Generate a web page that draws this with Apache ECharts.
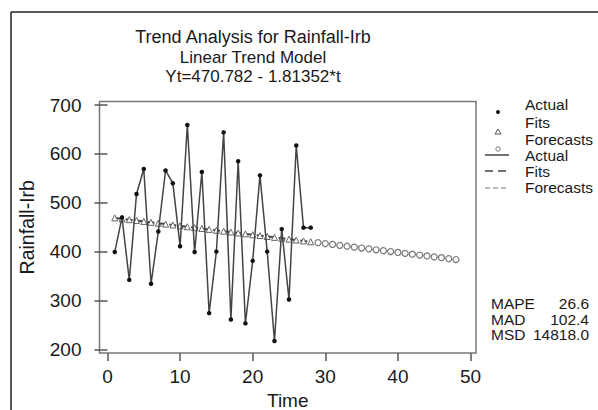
<!DOCTYPE html>
<html><head><meta charset="utf-8">
<script src="https://cdn.jsdelivr.net/npm/echarts@6/dist/echarts.min.js"></script>
<style>html,body{margin:0;padding:0;background:#fff}#c{width:598px;height:410px}</style>
</head><body><div id="c"></div>
<script>
const titleLines = ['Trend Analysis for Rainfall-Irb', 'Linear Trend Model', 'Yt=470.782 - 1.81352*t'];
const time = [1,2,3,4,5,6,7,8,9,10,11,12,13,14,15,16,17,18,19,20,21,22,23,24,25,26,27,28];
const actual = [399,470,342,518,569,334,441,566,540,411,659,399,563,274,400,644,261,585,253,381,556,400,217,446,302,617,449,449];
const fits = [469.0,467.2,465.3,463.5,461.7,459.9,458.1,456.3,454.5,452.6,450.8,449.0,447.2,445.4,443.6,441.8,440.0,438.1,436.3,434.5,432.7,430.9,429.1,427.3,425.4,423.6,421.8,420.0];
const forecastTime = [29,30,31,32,33,34,35,36,37,38,39,40,41,42,43,44,45,46,47,48];
const forecasts = [418.2,416.4,414.6,412.8,410.9,409.1,407.3,405.5,403.7,401.9,400.1,398.2,396.4,394.6,392.8,391.0,389.2,387.4,385.5,383.7];
const xTicks = [0,10,20,30,40,50];
const yTicks = [200,300,400,500,600,700];
const legendLabels = ['Actual','Fits','Forecasts','Actual','Fits','Forecasts'];
const statNames = ['MAPE','MAD','MSD'];
const statValues = ['26.6','102.4','14818.0'];

const FONT = '"Liberation Sans", Arial, sans-serif';
const TXT = '#1a1a1a';

const chart = echarts.init(document.getElementById('c'), null, {renderer: 'svg'});

const graphics = [];
graphics.push({type:'line', shape:{x1:11,y1:12,x2:598,y2:12}, style:{stroke:'#222',lineWidth:1.5}, silent:true});
graphics.push({type:'line', shape:{x1:11,y1:12,x2:11,y2:410}, style:{stroke:'#222',lineWidth:1.5}, silent:true});
const titleY = [37, 57, 76];
const titleSize = [18, 17, 17];
titleLines.forEach((t,i)=>graphics.push({type:'text', x:253, y:titleY[i], style:{text:t, fill:TXT, font: titleSize[i]+'px '+FONT, lineHeight: titleSize[i]-1, textAlign:'center', textVerticalAlign:'middle'}}));
const legY = [104, 122, 139, 155, 171, 187];
legendLabels.forEach((t,i)=>graphics.push({type:'text', x:525, y:legY[i], style:{text:t, fill:TXT, font:'15.5px '+FONT, lineHeight: 13.5, textAlign:'left', textVerticalAlign:'middle'}}));
graphics.push({type:'circle', shape:{cx:498, cy:112, r:2}, style:{fill:'#111'}});
graphics.push({type:'polygon', shape:{points:[[498,129],[495,134],[501,134]]}, style:{fill:'#fff', stroke:'#555', lineWidth:1}});
graphics.push({type:'circle', shape:{cx:498, cy:149, r:2.2}, style:{fill:'#fff', stroke:'#777', lineWidth:1}});
graphics.push({type:'line', shape:{x1:485,y1:155,x2:509,y2:155}, style:{stroke:'#444',lineWidth:1.5}});
graphics.push({type:'line', shape:{x1:485,y1:171,x2:509,y2:171}, style:{stroke:'#444',lineWidth:1.5, lineDash:[8,5]}});
graphics.push({type:'line', shape:{x1:485,y1:188,x2:509,y2:188}, style:{stroke:'#777',lineWidth:1.2, lineDash:[5,3]}});
const statY = [303.5, 319, 334.5];
statNames.forEach((t,i)=>{
  graphics.push({type:'text', x:491, y:statY[i], style:{text:t, fill:TXT, font:'15.5px '+FONT, lineHeight: 15, textAlign:'left', textVerticalAlign:'middle'}});
  graphics.push({type:'text', x:589, y:statY[i], style:{text:statValues[i], fill:TXT, font:'15.5px '+FONT, lineHeight: 15, textAlign:'right', textVerticalAlign:'middle'}});
});

chart.setOption({
  animation: false,
  backgroundColor: '#fff',
  grid: {left: 99.5, top: 101.5, width: 376.5, height: 251.5, containLabel: false, outerBoundsMode: 'none',
         show: true, borderColor: '#777', borderWidth: 1.5, backgroundColor: 'transparent'},
  xAxis: {
    type: 'value', min: -1.1, max: 50.76,
    name: 'Time', nameLocation: 'middle', nameGap: 38,
    nameTextStyle: {fontSize: 19, lineHeight: 18, color: TXT, fontFamily: FONT},
    axisLine: {show: false},
    axisTick: {show: true, length: 8, lineStyle: {color: '#555', width: 1.5}, customValues: xTicks},
    axisLabel: {fontSize: 19, color: TXT, fontFamily: FONT, margin: 14, customValues: xTicks},
    splitLine: {show: false}
  },
  yAxis: {
    type: 'value', min: 192.4, max: 707.2,
    name: 'Rainfall-Irb', nameLocation: 'middle', nameGap: 63,
    nameTextStyle: {fontSize: 19.5, color: TXT, fontFamily: FONT},
    axisLine: {show: false},
    axisTick: {show: true, length: 13, lineStyle: {color: '#555', width: 1.5}, customValues: yTicks},
    axisLabel: {fontSize: 19, color: TXT, fontFamily: FONT, margin: 18, customValues: yTicks},
    splitLine: {show: false}
  },
  series: [
    {name: 'Forecasts', type: 'line', data: forecastTime.map((t,i)=>[t, forecasts[i]]),
     symbol: 'circle', symbolSize: 6, showSymbol: true,
     lineStyle: {color: '#888', width: 1, type: 'dotted'},
     itemStyle: {color: '#fff', borderColor: '#777', borderWidth: 1.2}, z: 5},
    {name: 'Fits', type: 'line', data: time.map((t,i)=>[t, fits[i]]),
     symbol: 'triangle', symbolSize: 6, lineStyle: {color: '#444', width: 2, type: [7,4]},
     itemStyle: {color: '#fff', borderColor: '#666', borderWidth: 1}, z: 3},
    {name: 'Actual', type: 'line', data: time.map((t,i)=>[t, actual[i]]),
     symbol: 'circle', symbolSize: 4.5, lineStyle: {color: '#444', width: 1.5},
     itemStyle: {color: '#111'}, z: 4}
  ],
  graphic: graphics
});
</script></body></html>
